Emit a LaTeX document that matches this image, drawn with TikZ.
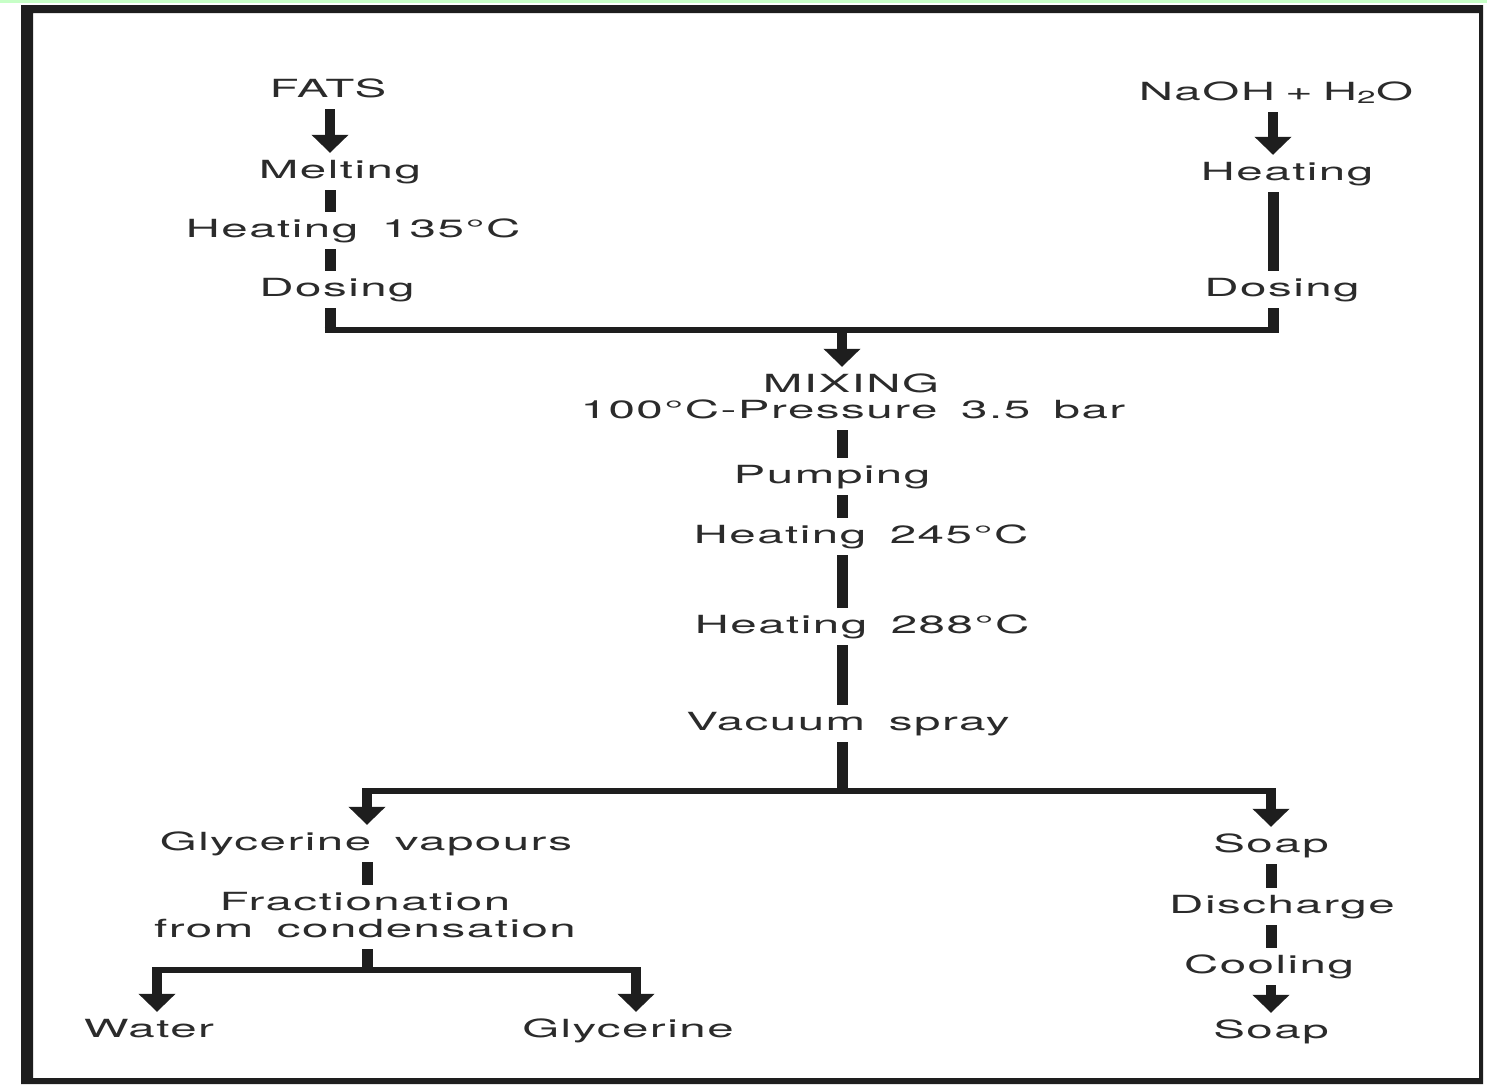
\documentclass[tikz,border=0pt]{standalone}
\usepackage{fontspec}
\setmainfont{TeX Gyre Heros}[FakeStretch=1.9, LetterSpace=6, WordSpace=1.6]
\usetikzlibrary{arrows.meta}
\definecolor{ink}{HTML}{1E1E1E}
\definecolor{txt}{HTML}{2B2B2B}
\begin{document}
\begin{tikzpicture}[x=1pt,y=-1pt,
  lbl/.style={font=\fontsize{25}{27}\selectfont, text=txt, inner xsep=0pt, inner ysep=7pt,
              text height=18pt, text depth=5pt, anchor=base},
  bar/.style={draw=ink, line width=11pt},
  hbar/.style={draw=ink, line width=6pt},
  arr/.style={draw=ink, line width=10pt, -{Triangle[width=36pt,length=18pt]}}]
\useasboundingbox (0,0) rectangle (1487,1085);
\fill[white] (0,0) rectangle (1487,1085);
\fill[green!22] (0,0) rectangle (1487,2.5);
% frame
\fill[ink, even odd rule] (21,5) rectangle (1483,1084) (33,13) rectangle (1479,1078);

% column coordinates
\coordinate (cL) at (330,0);
\coordinate (cR) at (1273,0);
\coordinate (cM) at (842,0);
\coordinate (cG) at (367,0);
\coordinate (cW) at (157,0);
\coordinate (cY) at (636,0);
\coordinate (cS) at (1271,0);
\coordinate (merge) at (0,330);
\coordinate (split) at (0,791);
\coordinate (split2) at (0,970);

% nodes
\node[lbl] (fats)  at (328,97)   {FATS};
\node[lbl] (melt)  at (340,178)  {Melting};
\node[lbl] (h135)  at (353,237)  {Heating 135°C};
\node[lbl] (dosL)  at (337,296)  {Dosing};
\node[lbl] (naoh)  at (1276,100) {NaOH\hspace{10pt}+\hspace{10pt}H\textsubscript{2}O};
\node[lbl] (heatR) at (1287,180) {Heating};
\node[lbl] (dosR)  at (1282,296) {Dosing};
\node[lbl] (mix)   at (851,392)  {MIXING};
\node[lbl] (mixb)  at (853,418)  {100°C-Pressure 3.5 bar};
\node[lbl] (pump)  at (832,483)  {Pumping};
\node[lbl] (h245)  at (861,543)  {Heating 245°C};
\node[lbl] (h288)  at (862,633)  {Heating 288°C};
\node[lbl] (vac)   at (848,730)  {Vacuum spray};
\node[lbl] (glyv)  at (366,850)  {Glycerine vapours};
\node[lbl] (frac)  at (365,910)  {Fractionation};
\node[lbl] (fracb) at (365,937)  {from condensation};
\node[lbl] (water) at (149,1037) {Water};
\node[lbl] (gly)   at (628,1037) {Glycerine};
\node[lbl] (soap1) at (1271,852) {Soap};
\node[lbl] (disch) at (1282,913) {Discharge};
\node[lbl] (cool)  at (1269,973) {Cooling};
\node[lbl] (soap2) at (1271,1038){Soap};

% left feed
\draw[arr] (cL |- fats.south) -- (cL |- melt.north);
\draw[bar] (cL |- melt.south) -- (cL |- h135.north);
\draw[bar] (cL |- h135.south) -- (cL |- dosL.north);
\draw[bar] (cL |- dosL.south) -- ([yshift=-3pt]cL |- merge);
% right feed
\draw[arr] (cR |- naoh.south) -- (cR |- heatR.north);
\draw[bar] (cR |- heatR.south) -- (cR |- dosR.north);
\draw[bar] (cR |- dosR.south) -- ([yshift=-3pt]cR |- merge);
% merge
\draw[hbar] ([xshift=-5.5pt]cL |- merge) -- ([xshift=5.5pt]cR |- merge);
\draw[arr] (cM |- merge) -- (cM |- mix.north);
% main column
\draw[bar] (cM |- mixb.south) -- (cM |- pump.north);
\draw[bar] (cM |- pump.south) -- (cM |- h245.north);
\draw[bar] (cM |- h245.south) -- (cM |- h288.north);
\draw[bar] (cM |- h288.south) -- (cM |- vac.north);
\draw[bar] (cM |- vac.south) -- ([yshift=-3pt]cM |- split);
% split
\draw[hbar] ([xshift=-5pt]cG |- split) -- ([xshift=5pt]cS |- split);
\draw[arr] ([yshift=3pt]cG |- split) -- (cG |- glyv.north);
\draw[arr] ([yshift=3pt]cS |- split) -- (cS |- soap1.north);
% glycerine branch
\draw[bar] (cG |- glyv.south) -- (cG |- frac.north);
\draw[bar] (cG |- fracb.south) -- ([yshift=-3pt]cG |- split2);
\draw[hbar] ([xshift=-5pt]cW |- split2) -- ([xshift=5pt]cY |- split2);
\draw[arr] ([yshift=3pt]cW |- split2) -- (cW |- water.north);
\draw[arr] ([yshift=3pt]cY |- split2) -- (cY |- gly.north);
% soap branch
\draw[bar] (cS |- soap1.south) -- (cS |- disch.north);
\draw[bar] (cS |- disch.south) -- (cS |- cool.north);
\draw[arr] (cS |- cool.south) -- (cS |- soap2.north);
\end{tikzpicture}
\end{document}
